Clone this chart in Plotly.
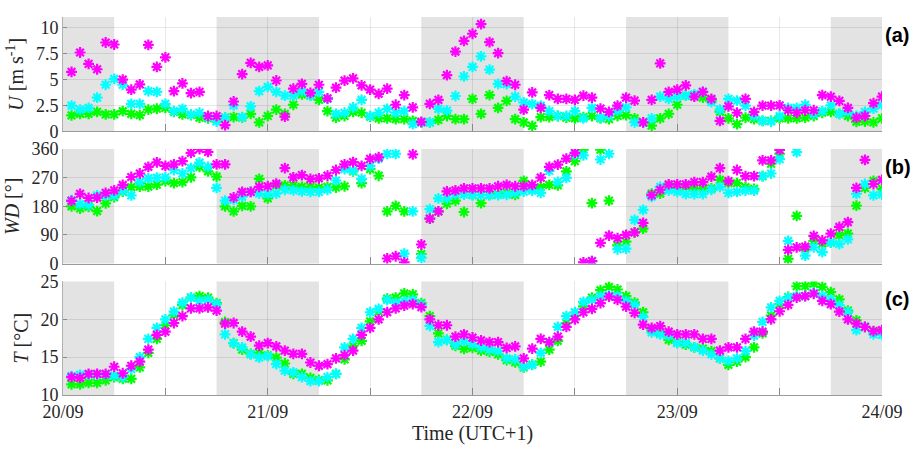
import plotly.graph_objects as go

hours = list(range(1, 97))

U_mag = [5.73, 7.59, 6.5, 5.98, 8.55, 8.36, 4.99, 4.03, 4.52, 8.33, 6.2, 7.12, 3.87, 4.62, 3.69, 3.81, 1.49, 1.49, 0.62, 2.88, 5.51, 6.6, 6.2, 6.35, 4.9, 1.42, 4.12, 4.58, 3.72, 4.49,
         3.19, 4.21, 4.89, 5.11, 4.43, 4.03, 3.62, 4.12, 2.57, 3.5, 2.32, 0.93, 2.66, 3.04, 5.42, 7.68, 8.7, 9.39, 10.32, 8.58, 7.53, 4.83, 4.49, 2.11, 3.75, 2.26, 3.5, 3.13, 3.13, 3.04, 3.44, 3.25, 2.2, 1.89, 2.48,
         3.25, 2.97, 0.87, 3.04, 6.54, 3.81, 4.03, 4.43, 3.35, 3.81, 3.13, 1.02, 2.42, 1.8, 3.13, 1.89, 2.48, 2.48, 2.51, 2.04, 1.8, 2.04, 2.04, 3.5, 3.35, 2.94, 2.26, 1.33, 1.49, 2.73, 3.35]
U_cya = [2.48, 2.1, 2.26, 3.25, 4.49, 5.05, 4.49, 2.66, 2.66, 3.87, 3.81, 2.66, 1.95, 2.17, 1.64, 1.8, 1.39, 0.96, 1.33, 2.51, 1.39, 2.42, 3.87, 4.28, 3.81, 3.44, 3.44, 3.87, 3.44, 3.81,
         3.13, 1.7, 1.8, 2.32, 3.04, 1.49, 1.8, 2.17, 1.8, 1.95, 0.71, 0.87, 0.87, 2.17, 2.0, 3.41, 5.3, 6.2, 7.22, 5.95, 4.58, 4.55, 3.35, 2.79, 2.63, 2.48, 1.95, 1.49, 1.49, 1.95, 1.27, 2.26, 1.33, 1.49, 2.01,
         2.32, 0.87, 0.87, 1.27, 3.35, 3.13, 3.35, 3.44, 3.56, 3.81, 2.82, 2.11, 3.13, 2.97, 2.48, 1.49, 1.02, 0.96, 1.49, 2.26, 2.26, 2.57, 1.7, 1.95, 2.51, 1.7, 1.89, 1.49, 1.89, 2.2, 2.57]
U_grn = [1.55, 1.7, 1.7, 1.89, 1.64, 1.64, 1.95, 1.7, 1.58, 2.1, 2.2, 2.26, 1.89, 1.64, 1.58, 1.33, 1.27, 1.18, 1.33, 1.39, 1.33, 1.7, 0.87, 1.49, 2.1, 1.7, 2.57, 3.56, 3.44, 3.04,
         1.95, 1.33, 1.49, 1.89, 1.8, 1.42, 1.27, 1.27, 1.18, 1.18, 1.02, 0.87, 0.87, 1.12, 1.49, 1.18, 1.18, 3.13, 1.7, 3.5, 2.26, 2.94, 1.18, 0.87, 0.53, 1.39, 1.39, 1.49, 1.33, 1.27, 1.39, 1.49, 1.27, 1.18, 1.49,
         1.58, 1.27, 0.87, 0.56, 1.27, 1.7, 2.57, 3.44, 3.5, 3.25, 3.04, 1.89, 1.27, 0.71, 1.33, 1.18, 1.02, 1.02, 1.27, 1.27, 1.27, 1.33, 1.49, 1.8, 1.89, 1.7, 1.49, 0.93, 0.96, 0.87, 1.27]

WD_mag = [197, 219, 206, 207, 222, 230, 247, 272, 283, 304, 318, 307, 312, 322, 348, 360, 351, 312, 312, 208, 225, 225, 241, 243, 251, 300, 271, 278, 266, 268,
          276, 294, 312, 319, 307, 329, 334, 16, 23, 4, 343, 60, 141, 164, 227, 230, 236, 236, 236, 236, 243, 247, 243, 243, 247, 270, 304, 311, 330, 348, 4, 8, 65, 88, 80,
          90, 98, 128, 215, 232, 249, 249, 249, 256, 256, 273, 300, 259, 294, 275, 275, 324, 324, 357, 43, 51, 53, 87, 73, 94, 115, 130, 238, 326, 250, 263]
WD_cya = [199, 187, 184, 214, 214, 214, 229, 214, 257, 268, 270, 271, 294, 283, 300, 317, 304, 238, 198, 200, 210, 225, 220, 218, 220, 232, 230, 227, 225, 225,
          232, 261, 297, 292, 266, 307, 330, 345, 345, 31, 164, 18, 171, 205, 205, 217, 217, 215, 215, 215, 215, 216, 222, 226, 229, 222, 291, 257, 269, 343, 340, 8, 327, 345, 45,
          47, 137, 169, 210, 241, 230, 225, 218, 218, 218, 232, 241, 222, 225, 229, 229, 275, 283, 328, 71, 350, 25, 51, 36, 66, 61, 76, 219, 250, 214, 217]
WD_grn = [180, 173, 178, 165, 189, 209, 226, 240, 242, 242, 248, 259, 253, 256, 271, 304, 290, 273, 180, 164, 181, 180, 266, 205, 246, 246, 246, 241, 241, 239,
          241, 239, 243, 290, 253, 297, 276, 164, 181, 164, None, 30, 141, 164, 188, 198, 162, 216, 190, 216, 218, 222, 216, 260, 235, 240, 247, 246, 290, 322, 358, 190, 358, 198, 57,
          69, 98, 110, 220, 220, 246, 241, 241, 236, 236, 236, 263, 253, 253, 240, 235, 275, 314, 345, 15, 150, 46, 71, 63, 66, 89, 94, 182, 238, 260, 235]

T_mag = [12.36, 12.27, 12.79, 12.79, 12.79, 13.73, 12.87, 13.86, 14.41, 16.0, 17.93, 18.36, 19.51, 20.41, 21.44, 21.44, 21.57, 21.14, 19.43, 19.51, 18.36, 17.71, 16.51, 16.86, 16.43, 15.87, 15.44, 15.44, 14.29, 13.86,
         14.07, 14.84, 15.27, 15.87, 17.93, 18.87, 19.99, 20.93, 21.44, 21.79, 22.0, 21.6, 19.99, 19.21, 19.21, 17.71, 18.01, 17.59, 17.2, 16.99, 16.99, 16.21, 16.43, 14.84, 16.13, 17.41, 16.99, 17.71, 19.0, 19.99, 20.93, 21.36, 22.13, 22.99, 22.56,
         21.66, 20.84, 19.3, 18.87, 19.1, 18.36, 18.01, 18.01, 18.01, 17.41, 17.41, 15.87, 16.3, 16.3, 17.41, 18.36, 18.36, 19.99, 21.06, 21.91, 22.86, 23.07, 23.37, 22.43, 22.0, 21.01, 19.99, 19.43, 19.0, 18.44, 18.57]
T_cya = [12.49, 12.66, 12.7, 12.7, 12.7, 12.57, 12.36, 13.43, 15.01, 17.41, 18.87, 19.99, 21.01, 22.21, 22.86, 22.43, 22.56, 22.0, 18.01, 16.86, 16.3, 15.36, 14.93, 15.14, 14.07, 13.21, 13.0, 12.36, 11.84, 11.84,
         12.36, 12.8, 16.3, 17.41, 18.87, 20.93, 21.36, 22.56, 22.21, 22.4, 22.56, 21.9, 19.13, 16.99, 17.29, 16.64, 17.07, 16.73, 16.3, 16.0, 15.79, 14.84, 14.71, 13.73, 13.99, 15.57, 16.99, 19.0, 20.41, 20.93, 22.3, 22.56, 23.07, 23.15, 23.07,
         22.43, 21.9, 20.3, 18.27, 18.01, 17.84, 16.86, 16.86, 16.3, 15.87, 15.36, 14.84, 14.5, 14.84, 15.79, 17.84, 19.64, 21.57, 22.43, 22.86, 23.07, 23.07, 23.5, 23.07, 22.64, 21.87, 20.93, 18.57, 19.0, 18.01, 17.93]
T_grn = [11.41, 11.41, 11.59, 11.59, 11.93, 12.36, 12.14, 12.14, 13.64, 15.57, 17.41, 19.21, 20.59, 21.87, 22.86, 23.07, 22.86, 22.13, 19.64, 16.86, 16.0, 15.44, 15.57, 15.23, 14.93, 14.16, 12.79, 12.79, 12.27, 12.0,
         11.93, 12.79, 14.71, 16.5, 17.16, 19.73, 21.0, 22.73, 22.86, 23.41, 23.29, 22.13, 20.41, 18.14, 17.29, 16.5, 16.09, 16.21, 15.87, 15.7, 15.36, 14.6, 14.3, 13.64, 14.0, 14.41, 16.0, 17.16, 19.5, 20.5, 21.7, 22.86, 23.84, 24.27, 23.93,
         23.07, 22.21, 20.93, 18.6, 18.2, 17.29, 16.94, 16.64, 16.3, 16.13, 15.79, 14.84, 13.99, 14.41, 15.01, 16.3, 18.14, 20.5, 22.0, 22.94, 24.36, 24.36, 24.7, 24.27, 23.59, 22.64, 21.14, 19.86, 19.0, 18.4, 18.4]

night_periods = [(0, 6), (18, 30), (42, 54), (66, 78), (90, 96)]
x_tickvals = list(range(0, 97, 12))
x_ticktext = ["20/09", " ", "21/09", " ", "22/09", " ", "23/09", " ", "24/09"]

colors = {"green": "#00FF00", "cyan": "#00FFFF", "magenta": "#FF00FF"}
panels = [
    ("y", [U_grn, U_cya, U_mag]),
    ("y2", [WD_grn, WD_cya, WD_mag]),
    ("y3", [T_grn, T_cya, T_mag]),
]
xrefs = {"y": "x", "y2": "x2", "y3": "x3"}

fig = go.Figure()
for yref, series in panels:
    for data, cname in zip(series, ["green", "cyan", "magenta"]):
        fig.add_trace(go.Scatter(
            x=hours, y=data, mode="markers", xaxis=xrefs[yref], yaxis=yref,
            marker=dict(symbol="asterisk-open", size=9, color=colors[cname],
                        line=dict(color=colors[cname], width=2.2)),
            showlegend=False, hoverinfo="skip"))

shapes = []
for yref in ["y", "y2", "y3"]:
    for a, b in night_periods:
        shapes.append(dict(type="rect", xref=xrefs[yref], yref=yref + " domain",
                           x0=a, x1=b, y0=0, y1=1, fillcolor="#e3e3e3",
                           line=dict(width=0), layer="below"))

tick_font = dict(family="Liberation Serif", size=18, color="#262626")
title_font = dict(family="Liberation Serif", size=20, color="#262626")

def xax(show_labels):
    d = dict(range=[0, 96], tickmode="array", tickvals=x_tickvals,
             showgrid=True, gridcolor="rgba(0,0,0,0.09)", gridwidth=1,
             ticks="inside", ticklen=7, tickcolor="#8a8a8a", tickwidth=1,
             showline=True, linecolor="#9a9a9a", linewidth=1,
             zeroline=False, tickfont=tick_font, fixedrange=True,
             showticklabels=show_labels)
    if show_labels:
        d["ticktext"] = x_ticktext
    return d

def yax(rng, tv, tt, dom, title, anchor):
    return dict(range=rng, tickmode="array", tickvals=tv, ticktext=tt, domain=dom,
                anchor=anchor, showgrid=True, gridcolor="rgba(0,0,0,0.09)", gridwidth=1,
                ticks="inside", ticklen=4, tickcolor="#8a8a8a",
                showline=True, linecolor="#b0b0b0", linewidth=1, zeroline=False,
                tickfont=tick_font, fixedrange=True,
                title=dict(text=title, font=title_font, standoff=6))

fig.update_layout(
    width=918, height=449,
    margin=dict(l=63, r=36, t=7, b=54),
    paper_bgcolor="white", plot_bgcolor="white",
    shapes=shapes,
    xaxis=dict(**xax(False), anchor="y"),
    xaxis2=dict(**xax(False), anchor="y2", matches="x"),
    xaxis3=dict(**xax(True), anchor="y3", matches="x",
                title=dict(text="Time (UTC+1)", font=title_font, standoff=4)),
    yaxis=yax([0, 11], [0, 2.5, 5, 7.5, 10], ["0", "2.5", "5", "7.5", "10"],
              [0.6971, 1.0], "<i>U</i> [m s<sup>-1</sup>]", "x"),
    yaxis2=yax([0, 360], [0, 90, 180, 270, 360], ["0", "90", "180", "270", "360"],
               [0.3477, 0.6508], "<i>WD</i> [°]", "x2"),
    yaxis3=yax([10, 25], [10, 15, 20, 25], ["10", "15", "20", "25"],
               [0.0, 0.3005], "<i>T</i> [°C]", "x3"),
)

label_font = dict(family="Liberation Sans", size=20, color="black")
for lab, yr, top in [("(a)", "y", 1.0), ("(b)", "y2", 0.6508), ("(c)", "y3", 0.3005)]:
    fig.add_annotation(text="<b>" + lab + "</b>", xref="paper", yref="paper",
                       x=1.0, y=top, xanchor="left", yanchor="middle",
                       xshift=1, yshift=-18, showarrow=False, font=label_font)

fig.write_html("out.html", config={"displayModeBar": False, "staticPlot": True},
               post_script="document.body.style.margin='0px';document.body.style.overflow='hidden';")
